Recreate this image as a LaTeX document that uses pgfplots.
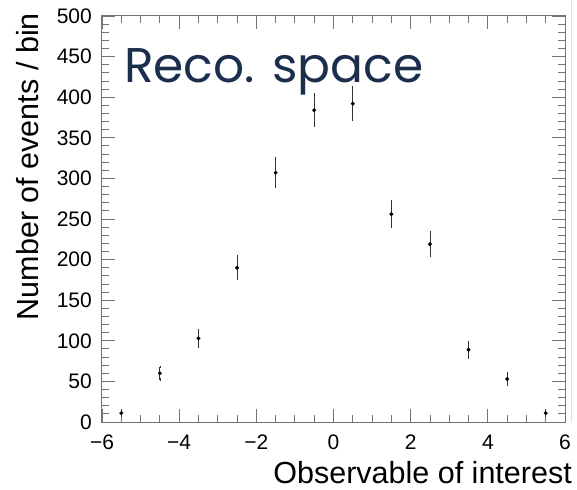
\documentclass[border=0pt]{standalone}
\usepackage{fontspec}
\setmainfont{Liberation Sans}
\newfontfamily\titlefont{Poppins}
\usepackage{pgfplots}
\usepackage{pgfplotstable}
\pgfplotsset{compat=1.18}
\definecolor{titleblue}{HTML}{1B2F4D}
\definecolor{axisgray}{gray}{0.45}

% bin centre, events, stat. error
\pgfplotstableread{
x    y    err
-5.5 11   3.3
-4.5 60   7.7
-3.5 103  10.1
-2.5 190  13.8
-1.5 307  17.5
-0.5 384  19.6
0.5  392  19.8
1.5  256  16.0
2.5  219  14.8
3.5  89   9.4
4.5  53   7.3
5.5  11   3.3
}\recodata

\begin{document}
\begin{tikzpicture}[x=1pt,y=1pt]
  \path[use as bounding box] (-102,-67) rectangle (475,422);
  \begin{axis}[
      at={(0,0)}, anchor=south west,
      scale only axis,
      width=463pt, height=406pt,
      xmin=-6, xmax=6, ymin=0, ymax=500,
      xtick={-6,-4,...,6},
      xticklabels={−6,−4,−2,0,2,4,6},
      ytick={0,50,...,500},
      minor x tick num=3,
      minor y tick num=4,
      tick align=inside,
      major tick length=13pt,
      minor tick length=7pt,
      axis line style={axisgray, line width=1pt},
      every tick/.style={axisgray, line width=0.9pt},
      /pgf/number format/assume math mode=true,
      tick label style={font=\fontsize{21}{21}\selectfont},
      yticklabel style={anchor=east, inner sep=0pt, xshift=-10pt},
      xticklabel style={anchor=north, inner sep=0pt, yshift=-13pt},
      xlabel={Observable of interest},
      ylabel={Number of events / bin},
      label style={font=\fontsize{30.5}{30.5}\selectfont, inner sep=0pt},
      xlabel style={at={(axis description cs:1.0151,-0.1527)}, anchor=base east},
      ylabel style={at={(axis description cs:-0.1361,1.0074)}, anchor=base east, rotate=0},
    ]
    \addplot[
      only marks, mark=*, mark size=1.8pt, black,
      error bars/.cd, y dir=both, y explicit,
      error mark=-, error mark options={mark size=1.2pt, line width=0.6pt},
      error bar style={line width=0.9pt, black!80},
    ] table[x=x, y=y, y error=err] {\recodata};
    \node[anchor=base west, inner sep=0pt, text=titleblue,
          font=\titlefont\fontsize{48.7}{48.7}\selectfont]
      at (axis description cs:0.0475,0.8374) {Reco. space};
  \end{axis}
  \draw[black!12, line width=1pt] (469,0) -- (469,422);
\end{tikzpicture}
\end{document}
